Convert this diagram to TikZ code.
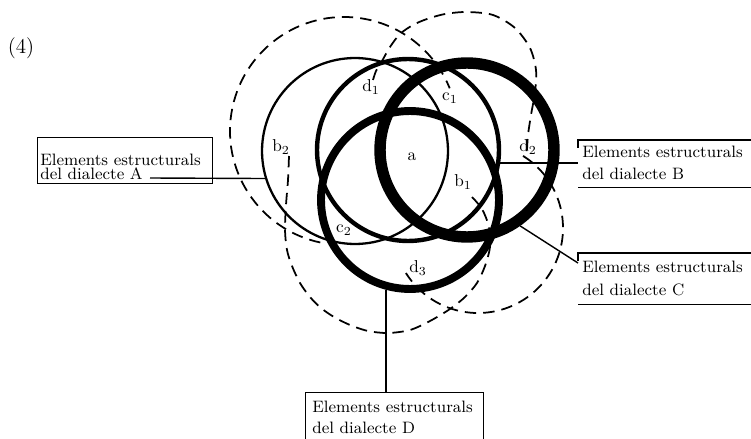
\documentclass[tikz,border=0pt]{standalone}
\usepackage{fontspec}
\usepackage{tikz}

\newcommand{\boxfont}[1]{\fontsize{9.4}{#1}\selectfont}

\begin{document}
\begin{tikzpicture}[
    x=0.02cm, y=-0.02cm,
    thinring/.style={circle, draw, inner sep=0pt, line width=1.3pt},
    midring/.style={circle, draw, inner sep=0pt, line width=2.5pt},
    thickring/.style={circle, draw, inner sep=0pt, line width=4.5pt},
    heavyring/.style={circle, draw, inner sep=0pt, line width=6.5pt},
    halo/.style={line width=1pt, dash pattern=on 6.5pt off 4pt},
    link/.style={line width=0.8pt},
    elembox/.style={rectangle, anchor=north west, inner sep=0pt, line width=0.8pt},
    elemtext/.style={anchor=north west, inner sep=0pt, align=left},
    region/.style={inner sep=0pt, font=\fontsize{9.8}{11}\selectfont}
]
\useasboundingbox (0,0) rectangle (751,439);
\clip (0,0) rectangle (751,439);

% Dashed outlines
\draw[halo] (344,131) ++(102:114) arc[start angle=102, end angle=338, radius=114];
\draw[halo] (478,228) ++(-58:85) arc[start angle=-58, end angle=148, radius=85];
\draw[halo] plot[smooth] coordinates {(373,80) (376,71) (382,61) (390,47) (400,34) (413,25) (427,19) (445,14) (467,12) (493,15) (515,28) (530,48) (536,70) (535,92) (531,115) (528,135) (527,150)};
\draw[halo] plot[smooth] coordinates {(289,156) (288,180) (286,205) (285,230) (287,250) (292,266) (300,283) (310,297) (321,308) (334,317) (350,325) (368,331) (388,333) (410,330) (430,321) (450,309) (465,297) (477,283) (485,266) (490,247) (489,227) (482,209) (472,197)};

% Rings
\node[thinring, minimum size=3.72cm] (ringA) at (355,151) {};
\node[midring, minimum size=3.64cm] (ringB) at (408,150) {};
\node[thickring, minimum size=3.56cm] (ringD) at (410,200) {};
\node[heavyring, minimum size=3.48cm] (ringC) at (467,150) {};

% Boxes
\node[elembox, draw, minimum width=3.5cm, minimum height=0.92cm] (boxA) at (37,137) {};
\node[elemtext, font={\boxfont{8}}] (txtA) at (40,154) {Elements estructurals\\del dialecte A};

\node[elembox, minimum width=4cm, minimum height=0.92cm] (boxB) at (578,140) {};
\draw[link] (boxB.north east) -- (boxB.north west) -- ++(0,8);
\draw[link] (boxB.south west) -- (boxB.south east);
\node[elemtext, font={\boxfont{12.5}}] (txtB) at (582,146) {Elements estructurals\\del dialecte B};

\node[elembox, minimum width=4cm, minimum height=1.0cm] (boxC) at (578,253) {};
\draw[link] (boxC.north east) -- (boxC.north west) -- ++(0,8);
\draw[link] (boxC.south west) -- (boxC.south east);
\node[elemtext, font={\boxfont{13}}] (txtC) at (582,261) {Elements estructurals\\del dialecte C};

\node[elembox, draw, minimum width=3.56cm, minimum height=1.4cm] (boxD) at (305,392) {};
\node[elemtext, font={\boxfont{12}}] (txtD) at (312,401) {Elements estructurals\\del dialecte D};

% Links
\coordinate (endA) at (150,178);
\draw[link] (endA) -- (ringA.197);
\draw[link] (ringB.-8) -- (ringB.-8 -| boxB.west);
\draw[link] (ringC.-55) -- ([shift={(0,10)}]boxC.north west);
\draw[link] (ringD.-105) -- (ringD.-105 |- boxD.north);

% Region labels
\node[region] (ra) at (412,157) {a};
\node[region] (rb1) at (463,182) {b$_1$};
\node[region] (rb2) at (281,147) {b$_2$};
\node[region] (rc1) at (450,98) {c$_1$};
\node[region] (rc2) at (344,230) {c$_2$};
\node[region] (rd1) at (371,87) {d$_1$};
\node[region] (rd2) at (528,147) {d$_2$};
\node[region] (rd3) at (418,268) {d$_3$};

\node[font=\fontsize{12}{14}\selectfont] (fignum) at (21,48) {(4)};
\end{tikzpicture}
\end{document}
